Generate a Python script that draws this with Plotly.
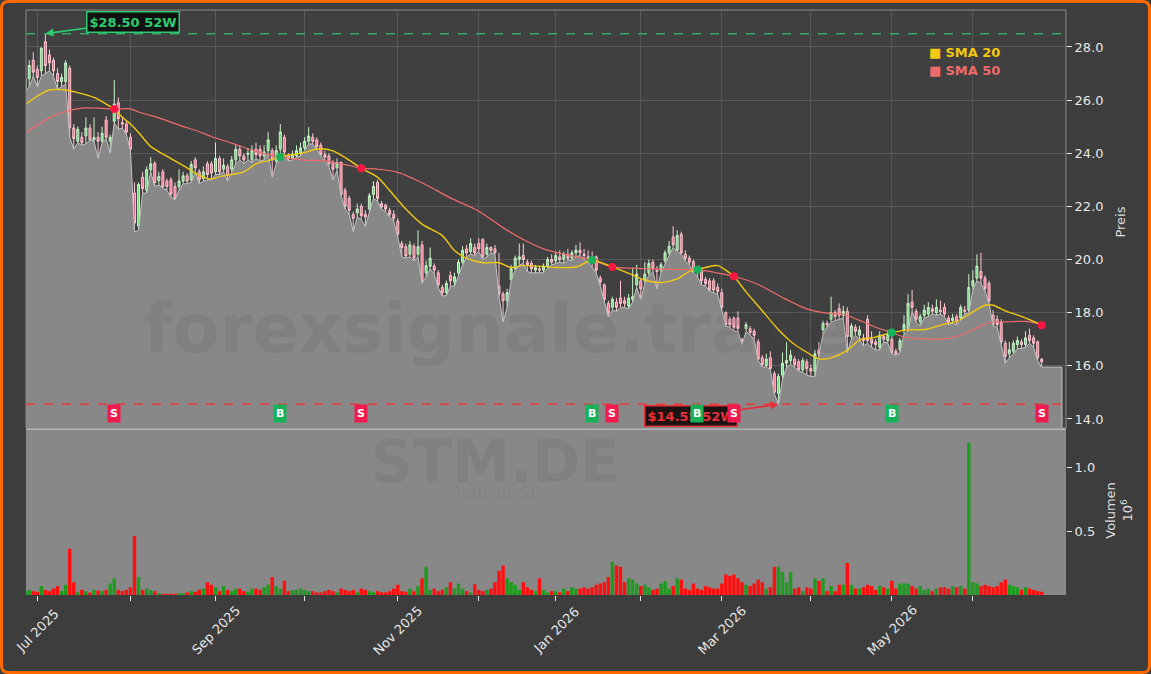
import pandas as pd
import plotly.graph_objects as go

# ---------------- data ----------------
holidays = ["2025-12-24", "2025-12-25", "2025-12-26", "2025-12-31", "2026-01-01",
            "2026-04-03", "2026-04-06", "2026-05-01"]
bdays = pd.bdate_range("2025-06-26", "2026-06-24")
dates = [d for d in bdays if d.strftime("%Y-%m-%d") not in holidays]

open_ = [26.4, 26.8, 27.5, 27.15, 27.1, 28.2, 27.7, 27.5, 27.0, 26.7, 26.7, 27.2,
         24.95, 24.45, 24.6, 24.65, 24.95, 24.5, 24.6, 24.45, 25.25, 24.45, 25.2, 25.9, 25.15, 25.1, 24.6, 22.5,
         21.26, 23.1, 22.6, 23.38, 23.62, 22.97, 23.3, 22.95, 23.0, 22.75, 22.75, 22.95, 23.15, 23.0, 23.75, 23.3,
         23.05, 23.6, 23.6, 23.3, 23.8, 23.4, 23.5, 23.4, 23.75, 24.15, 23.9, 23.95, 23.75, 24.15, 24.15, 23.9,
         24.1, 24.1, 23.7, 24.15, 24.6,
         23.9, 23.8, 23.9, 24.0, 24.2, 24.45, 24.6, 24.5, 24.3, 23.95, 23.9, 23.65, 23.45, 23.65, 22.6, 22.3,
         21.7, 21.75, 22.0, 21.7, 21.9, 22.45, 22.9, 22.1, 22.05, 21.85, 21.7, 21.45, 20.6, 20.48, 20.2, 20.5,
         20.2, 20.55, 19.5, 19.75, 19.75, 19.5, 18.95, 18.75, 19.4, 19.15, 19.5, 19.9, 20.4, 20.3, 20.45, 20.6,
         20.75, 20.2, 20.45, 20.4, 19.0, 18.7, 18.45, 19.25, 19.65, 20.0, 20.15, 19.9, 19.85, 19.6, 19.65, 19.6,
         19.75, 20.0, 19.95, 20.1, 20.0, 20.2, 20.05, 20.25, 20.35, 20.2, 20.1, 20.05, 20.1, 19.3, 19.05, 18.35,
         18.2, 18.4, 18.55, 18.45, 18.25, 18.5, 19.05, 19.2, 19.2, 19.5, 19.9, 19.6, 19.6, 19.95, 20.25, 20.85,
         20.35, 20.95, 20.2, 20.05, 19.92, 19.7, 19.6, 19.25, 19.2, 19.2, 18.95, 18.75, 18.0, 17.75, 17.8, 17.8,
         17.0, 17.4, 17.4, 17.3, 16.9, 16.3, 16.0, 16.3, 15.7, 14.95, 15.65, 16.1, 16.2, 16.25, 16.15, 15.85,
         16.15, 15.9, 15.8, 16.6, 17.35, 17.6, 17.75, 18.0, 18.15, 17.9, 18.05, 17.1, 17.45, 17.15, 17.05, 17.75,
         17.0, 16.9, 16.7, 17.1, 16.95, 17.0, 16.55, 16.6, 17.35, 17.4, 18.4, 18.05, 17.65, 17.9, 17.95, 18.15,
         18.0, 18.1, 18.2, 17.8, 17.7, 17.85, 17.8, 18.1, 18.1, 19.0, 19.3, 19.55, 19.3, 19.1, 17.9, 17.75,
         17.65, 16.85, 16.45, 16.55, 16.8, 16.9, 16.8, 17.15, 17.05, 16.9, 16.25]
high = [26.9, 27.5, 27.8, 27.3, 28.0, 28.5, 27.9, 27.6, 27.2, 27.0, 27.5, 27.3,
        25.1, 25.0, 24.8, 25.35, 25.1, 25.35, 24.8, 25.0, 25.4, 24.7, 26.75, 26.1, 25.35, 25.2, 24.75, 22.9,
        22.9, 23.3, 23.5, 23.85, 23.7, 23.3, 23.4, 23.05, 23.1, 22.9, 23.4, 23.3, 23.25, 23.7, 23.85, 23.4,
        23.5, 23.7, 23.7, 24.4, 23.9, 23.8, 23.6, 23.9, 24.3, 24.3, 24.0, 24.2, 24.3, 24.4, 24.3, 24.3,
        24.8, 24.2, 24.3, 25.1, 24.7,
        24.0, 24.1, 24.3, 24.4, 24.6, 24.98, 24.75, 24.6, 24.4, 24.1, 24.0, 23.75, 23.8, 23.7, 22.7, 22.4,
        21.8, 22.1, 22.1, 21.85, 22.5, 22.95, 23.0, 22.2, 22.1, 21.95, 21.85, 21.55, 20.7, 20.6, 20.7, 20.6,
        21.1, 20.7, 19.95, 20.45, 19.85, 19.6, 19.05, 19.2, 19.55, 19.5, 20.0, 20.5, 20.55, 20.8, 20.6, 20.8,
        20.8, 20.6, 20.5, 20.55, 20.25, 18.8, 18.9, 19.8, 20.15, 20.6, 20.6, 20.0, 19.95, 19.8, 19.75, 19.85,
        20.1, 20.2, 20.3, 20.35, 20.3, 20.4, 20.35, 20.55, 20.65, 20.4, 20.35, 20.3, 20.15, 19.4, 19.1, 18.45,
        18.6, 18.55, 19.2, 18.6, 18.7, 19.7, 19.8, 19.3, 19.9, 20.0, 20.0, 19.75, 19.9, 20.35, 20.7, 21.25,
        21.1, 21.05, 20.35, 20.15, 20.0, 19.75, 19.7, 19.35, 19.3, 19.3, 19.1, 18.9, 18.05, 17.85, 17.85, 18.05,
        17.05, 17.65, 17.5, 17.4, 17.0, 16.4, 16.45, 16.55, 15.8, 15.7, 16.5, 16.9, 16.6, 16.35, 16.25, 16.3,
        16.25, 16.05, 16.6, 16.9, 17.7, 17.7, 18.6, 18.1, 18.35, 18.25, 18.2, 17.6, 17.55, 17.5, 17.2, 17.9,
        17.3, 17.0, 17.3, 17.2, 17.35, 17.1, 16.65, 17.05, 17.9, 18.7, 18.85, 18.15, 17.95, 18.3, 18.4, 18.3,
        18.5, 18.45, 18.35, 17.9, 17.95, 17.95, 18.3, 18.25, 19.45, 19.6, 20.2, 20.25, 19.4, 19.2, 18.1, 17.9,
        17.75, 16.95, 16.9, 16.95, 17.1, 17.0, 17.3, 17.4, 17.15, 16.95, 16.3]
low = [26.3, 26.5, 26.9, 26.5, 26.9, 27.0, 27.1, 26.9, 26.4, 26.5, 26.6, 24.6,
       24.15, 24.4, 24.3, 24.35, 24.5, 24.45, 23.8, 24.4, 24.55, 24.0, 25.15, 24.9, 24.95, 24.7, 24.1, 21.04,
       21.1, 22.5, 22.5, 23.3, 22.75, 22.8, 22.7, 22.6, 22.35, 22.25, 22.6, 22.85, 22.85, 22.9, 23.3, 22.85,
       22.95, 23.0, 23.0, 23.2, 23.2, 23.3, 22.95, 23.3, 23.6, 23.75, 23.6, 23.75, 23.65, 23.8, 23.7, 23.75,
       24.0, 23.1, 23.6, 24.0, 23.95,
       23.7, 23.75, 23.85, 23.9, 24.1, 24.35, 24.35, 24.15, 23.9, 23.7, 23.5, 23.0, 23.35, 22.4, 21.9, 21.7,
       21.05, 21.6, 21.5, 21.25, 21.8, 22.3, 22.2, 21.9, 21.8, 21.6, 21.45, 20.85, 20.1, 20.05, 20.1, 19.95,
       20.1, 19.1, 19.35, 19.65, 19.45, 18.95, 18.62, 18.65, 19.0, 19.0, 19.4, 19.8, 20.1, 20.2, 20.15, 20.3,
       20.0, 20.1, 20.25, 20.2, 18.6, 17.65, 18.2, 19.2, 19.6, 19.8, 19.85, 19.55, 19.5, 19.5, 19.5, 19.5,
       19.65, 19.8, 19.85, 19.9, 19.85, 20.0, 19.95, 20.1, 20.15, 20.0, 19.9, 19.7, 19.5, 19.0, 18.4, 17.85,
       18.1, 18.05, 18.2, 18.2, 18.15, 18.4, 18.95, 18.5, 19.1, 19.4, 19.55, 18.9, 19.5, 19.85, 20.15, 20.45,
       20.3, 20.2, 19.95, 19.8, 19.5, 19.35, 19.05, 19.0, 18.8, 18.75, 18.7, 18.1, 17.5, 17.45, 17.3, 17.3,
       16.8, 17.3, 17.15, 17.0, 16.2, 15.95, 15.95, 15.85, 14.95, 14.55, 15.5, 15.95, 16.05, 15.95, 15.8, 15.75,
       15.65, 15.6, 15.6, 16.35, 17.2, 17.45, 17.65, 17.7, 17.75, 17.8, 16.5, 17.0, 17.15, 17.0, 16.75, 16.85,
       16.7, 16.6, 16.6, 16.9, 16.85, 16.45, 16.4, 16.5, 17.2, 17.3, 18.05, 17.65, 17.5, 17.8, 17.85, 17.95,
       17.9, 17.95, 17.85, 17.55, 17.6, 17.55, 17.7, 17.95, 18.0, 18.85, 19.2, 19.1, 18.8, 18.35, 17.5, 17.45,
       16.8, 16.1, 16.3, 16.45, 16.65, 16.65, 16.7, 16.85, 16.7, 16.2, 15.95]
close = [26.8, 27.3, 27.05, 26.85, 27.95, 27.3, 27.4, 27.1, 26.7, 26.85, 27.4, 24.95,
         24.55, 24.9, 24.4, 24.95, 24.5, 24.6, 24.45, 24.75, 24.6, 24.6, 25.85, 25.3, 25.1, 24.8, 24.15, 21.37,
         22.82, 22.67, 23.38, 23.6, 22.9, 23.12, 22.75, 22.75, 22.46, 22.3, 22.95, 23.15, 22.95, 23.58, 23.45, 23.0,
         23.3, 23.2, 23.25, 23.8, 23.3, 23.55, 23.15, 23.75, 24.15, 23.9, 23.75, 24.0, 24.1, 23.95, 23.9, 24.05,
         24.5, 23.75, 24.1, 24.8, 24.05,
         23.8, 23.95, 24.1, 24.2, 24.45, 24.65, 24.45, 24.25, 23.95, 23.85, 23.6, 23.4, 23.65, 22.45, 22.0, 21.85,
         21.55, 21.9, 21.65, 21.6, 22.4, 22.75, 22.3, 21.98, 21.9, 21.7, 21.55, 20.95, 20.45, 20.13, 20.55, 20.05,
         20.48, 19.2, 19.77, 20.05, 19.6, 19.05, 18.75, 19.1, 19.2, 19.35, 19.9, 20.35, 20.25, 20.6, 20.25, 20.4,
         20.1, 20.45, 20.35, 20.25, 18.7, 18.45, 18.75, 19.65, 20.05, 20.1, 20.0, 19.8, 19.65, 19.7, 19.6, 19.75,
         20.0, 19.9, 20.15, 20.0, 20.2, 20.05, 20.25, 20.35, 20.25, 20.15, 20.05, 20.0, 19.6, 19.15, 18.5, 18.0,
         18.5, 18.2, 18.35, 18.35, 18.55, 18.6, 19.45, 18.9, 19.45, 19.85, 19.65, 19.55, 19.8, 20.25, 20.5, 20.55,
         20.9, 20.25, 20.05, 19.9, 19.6, 19.5, 19.2, 19.1, 18.85, 18.85, 18.8, 18.2, 17.55, 17.55, 17.45, 17.4,
         16.9, 17.55, 17.25, 17.15, 16.25, 16.05, 16.25, 15.9, 15.0, 15.6, 16.1, 16.2, 16.4, 16.05, 15.85, 16.2,
         15.9, 15.8, 16.45, 16.45, 17.6, 17.55, 18.0, 17.85, 17.9, 18.05, 17.1, 17.5, 17.3, 17.35, 16.95, 16.95,
         16.85, 16.8, 17.15, 17.0, 17.2, 16.5, 16.45, 16.95, 17.55, 18.35, 18.2, 17.75, 17.85, 18.1, 18.2, 18.05,
         18.2, 18.05, 17.95, 17.65, 17.8, 17.65, 18.2, 18.05, 18.95, 19.2, 19.75, 19.3, 18.9, 18.45, 17.55, 17.55,
         16.9, 16.35, 16.6, 16.85, 16.95, 16.8, 17.05, 16.95, 16.85, 16.3, 16.15]
volume_m = [0.03, 0.04, 0.03, 0.025, 0.07, 0.04, 0.03, 0.05, 0.07, 0.03, 0.08, 0.36,
            0.10, 0.02, 0.04, 0.03, 0.02, 0.04, 0.035, 0.03, 0.04, 0.09, 0.13, 0.04, 0.03, 0.04, 0.06, 0.46,
            0.14, 0.04, 0.05, 0.04, 0.03, 0.015, 0.01, 0.01, 0.01, 0.01, 0.015, 0.01, 0.02, 0.03, 0.025, 0.04,
            0.05, 0.1, 0.08, 0.06, 0.03, 0.07, 0.04, 0.03, 0.05, 0.05, 0.03, 0.025, 0.05, 0.05, 0.04, 0.06,
            0.08, 0.14, 0.07, 0.05, 0.11,
            0.03, 0.04, 0.04, 0.05, 0.04, 0.03, 0.03, 0.02, 0.02, 0.03,
            0.04, 0.03, 0.02, 0.05, 0.04, 0.03, 0.04, 0.02, 0.05, 0.04,
            0.03, 0.02, 0.03, 0.02, 0.02, 0.03, 0.05, 0.08, 0.03, 0.025,
            0.05, 0.03, 0.07, 0.13, 0.22, 0.04, 0.05, 0.03, 0.04, 0.06,
            0.1, 0.05, 0.09, 0.05, 0.03, 0.02, 0.085, 0.04, 0.03, 0.04,
            0.05, 0.1, 0.19, 0.23, 0.13, 0.10, 0.08, 0.04, 0.1, 0.06,
            0.04, 0.03, 0.13, 0.04,
            0.02, 0.03, 0.03, 0.02, 0.05, 0.03, 0.06, 0.05, 0.05, 0.06,
            0.05, 0.06, 0.08, 0.09, 0.1, 0.14, 0.26, 0.23, 0.22, 0.1,
            0.13, 0.12, 0.09, 0.07, 0.08, 0.06, 0.04, 0.05, 0.09, 0.11,
            0.05, 0.07, 0.13, 0.12, 0.05, 0.04, 0.09, 0.05, 0.04, 0.07,
            0.06, 0.05, 0.05, 0.09, 0.16, 0.15, 0.16, 0.13, 0.1, 0.08,
            0.07, 0.09, 0.12, 0.1, 0.05, 0.06, 0.22, 0.22, 0.18, 0.1,
            0.18, 0.05, 0.06, 0.03,
            0.06, 0.05, 0.13, 0.11, 0.13, 0.03, 0.07, 0.03, 0.08, 0.08,
            0.25, 0.08, 0.05, 0.05, 0.06, 0.08, 0.07, 0.04, 0.07, 0.06,
            0.05, 0.11, 0.05, 0.09, 0.09, 0.09, 0.07, 0.05, 0.07, 0.04,
            0.05, 0.03, 0.05, 0.06, 0.06, 0.05, 0.07, 0.06, 0.07, 0.05,
            1.19, 0.10, 0.09, 0.07, 0.08, 0.07, 0.06, 0.07, 0.10, 0.12,
            0.08, 0.07, 0.06, 0.04, 0.06, 0.05, 0.04, 0.03, 0.025]

sma20_idx = [0, 3, 6, 10, 13, 17, 20, 22, 24, 26, 28, 31, 33, 36, 40, 43, 46, 48, 51, 54, 57, 60, 63, 66, 69,
             72, 76, 80, 83, 87, 90, 94, 98, 103, 106, 109, 113, 117, 120, 123, 128, 131, 136, 140, 142, 145,
             150, 153, 157, 161, 164, 166, 168, 171, 174, 175, 178, 182, 186, 190, 193, 196, 199, 203, 206,
             210, 214, 219, 222, 227, 230, 233, 237, 239, 242, 246, 249, 251]
sma20_val = [25.82, 26.15, 26.38, 26.38, 26.28, 26.1, 25.85, 25.66, 25.35, 25.1, 24.78, 24.25, 24.06, 23.8,
             23.45, 23.17, 23.03, 23.12, 23.2, 23.3, 23.6, 23.72, 23.86, 23.95, 24.02, 24.16, 24.09, 23.74,
             23.43, 23.1, 22.6, 21.9, 21.33, 20.9, 20.34, 20.05, 19.88, 19.88, 19.7, 19.77, 19.74, 19.7, 19.72,
             19.98, 19.9, 19.72, 19.42, 19.23, 19.13, 19.27, 19.55, 19.62, 19.7, 19.77, 19.49, 19.37, 18.78,
             18.07, 17.36, 16.8, 16.51, 16.26, 16.3, 16.58, 16.97, 17.08, 17.25, 17.36, 17.36, 17.57, 17.67,
             17.93, 18.28, 18.28, 18.07, 17.86, 17.67, 17.53]
sma50_idx = [0, 6, 10, 14, 18, 22, 26, 28, 33, 38, 43, 46, 51, 56, 60, 63, 69, 74, 79, 83, 87, 92, 98, 105,
             112, 118, 123, 128, 133, 140, 145, 153, 161, 166, 170, 175, 181, 187, 193, 197, 202, 207, 210,
             214, 217, 222, 227, 230, 234, 238, 242, 247, 251]
sma50_val = [24.76, 25.33, 25.57, 25.7, 25.7, 25.66, 25.67, 25.55, 25.33, 25.06, 24.81, 24.63, 24.38, 24.12,
             23.95, 23.86, 23.74, 23.71, 23.57, 23.44, 23.4, 23.28, 22.89, 22.32, 21.82, 21.2, 20.75, 20.4,
             20.2, 19.98, 19.72, 19.66, 19.63, 19.62, 19.52, 19.37, 19.06, 18.57, 18.14, 18.0, 17.93, 17.65,
             17.45, 17.25, 17.08, 17.01, 17.01, 17.11, 17.36, 17.62, 17.65, 17.67, 17.56]

signal_idx = [22, 63, 83, 140, 145, 166, 175, 214, 251]
signal_type = ["S", "B", "S", "B", "S", "B", "S", "B", "S"]
signal_price = [25.66, 23.86, 23.43, 19.98, 19.72, 19.62, 19.37, 17.25, 17.53]

# ---------------- styling constants ----------------
BG = "#3d3d3d"
GRID = "#585858"
AREA = "#888888"
TXT = "#e6e6e6"
GOLD = "#f2c811"
SALMON = "#ee6b6b"
GREEN_SIG = "#16b35a"
RED_SIG = "#ee1c4e"
FONT = "DejaVu Sans"
WM = "rgba(40,40,40,0.075)"

price_dom = [0.2855, 1.0]
vol_dom = [0.0, 0.2855]

fig = go.Figure()

# low-price area with extension to the right
ext_date = dates[-1] + pd.offsets.BDay(5)
fig.add_trace(go.Scatter(
    x=dates + [ext_date, ext_date], y=low + [low[-1], 0],
    mode="lines", fill="tozeroy", fillcolor=AREA,
    line=dict(color="#c4c4c4", width=1), hoverinfo="skip", showlegend=False,
    xaxis="x", yaxis="y"))

fig.add_trace(go.Candlestick(
    x=dates, open=open_, high=high, low=low, close=close,
    increasing=dict(line=dict(color="#c9f3c9", width=1), fillcolor="#72d27f"),
    decreasing=dict(line=dict(color="#ffc8d2", width=1), fillcolor="#f06785"),
    whiskerwidth=0, showlegend=False, xaxis="x", yaxis="y"))

fig.add_trace(go.Scatter(
    x=[dates[i] for i in sma50_idx], y=sma50_val, mode="lines",
    line=dict(color=SALMON, width=1.2, shape="spline", smoothing=0.8),
    name="SMA 50", showlegend=False, xaxis="x", yaxis="y"))
fig.add_trace(go.Scatter(
    x=[dates[i] for i in sma20_idx], y=sma20_val, mode="lines",
    line=dict(color=GOLD, width=1.4, shape="spline", smoothing=0.8),
    name="SMA 20", showlegend=False, xaxis="x", yaxis="y"))

fig.add_trace(go.Scatter(
    x=[dates[i] for i in signal_idx], y=signal_price, mode="markers",
    marker=dict(size=8, color=[GREEN_SIG if t == "B" else "#ff1744" for t in signal_type]),
    showlegend=False, xaxis="x", yaxis="y"))

vol_colors = ["#1f9b1f" if c >= o else "#ff1010" for o, c in zip(open_, close)]
fig.add_trace(go.Bar(
    x=dates, y=volume_m, marker=dict(color=vol_colors, line=dict(width=0)),
    showlegend=False, xaxis="x2", yaxis="y2"))

# ---------------- axes ----------------
x_range = [dates[0] + pd.Timedelta(hours=5), dates[-1] + pd.offsets.BDay(6)]
month_first = pd.Series(dates).groupby(pd.Series(dates).dt.to_period("M")).min().tolist()
month_first = [d for d in month_first if d.day <= 5]
tick_text = [d.strftime("%b %Y") if d.month % 2 == 1 else "" for d in month_first]
rb = [dict(bounds=["sat", "mon"]), dict(values=holidays)]

fig.update_layout(
    width=1151, height=674,
    margin=dict(l=26, r=85, t=10, b=79, autoexpand=False),
    paper_bgcolor=BG, plot_bgcolor="#404040",
    font=dict(family=FONT, color=TXT, size=13),
    showlegend=False, bargap=0.15,
    xaxis=dict(type="date", domain=[0, 1], anchor="y", range=x_range, rangebreaks=rb,
               rangeslider=dict(visible=False), tickvals=month_first, showticklabels=False,
               showgrid=True, gridcolor=GRID, gridwidth=1, ticks="", automargin=False,
               showline=True, linecolor="#b4b4b4", linewidth=2, zeroline=False),
    xaxis2=dict(type="date", domain=[0, 1], anchor="y2", matches="x", range=x_range, rangebreaks=rb,
                tickvals=month_first, showticklabels=False, ticks="outside",
                ticklen=5, tickcolor="#e6e6e6", showgrid=False, zeroline=False, automargin=False),
    yaxis=dict(domain=price_dom, anchor="x", side="right", range=[13.66, 29.39], dtick=2, tick0=14,
               tickformat=".1f", ticks="outside", ticklen=5, tickcolor="#e6e6e6", automargin=False,
               showgrid=True, gridcolor=GRID, zeroline=False, tickfont=dict(size=13, color=TXT)),
    yaxis2=dict(domain=vol_dom, anchor="x2", side="right", range=[0, 1.305], automargin=False,
                tickvals=[0.5, 1.0], ticktext=["0.5", "1.0"], ticks="outside", ticklen=5,
                tickcolor="#e6e6e6", showgrid=False, zeroline=False, tickfont=dict(size=13, color=TXT)),
)

# ---------------- shapes ----------------
shapes = []
shapes.append(dict(type="rect", xref="x2 domain", yref="y2 domain", x0=0, x1=1, y0=0, y1=1,
                   fillcolor=AREA, line=dict(width=0), layer="below"))
shapes.append(dict(type="rect", xref="x domain", yref="y domain", x0=0, x1=1, y0=0, y1=1,
                   fillcolor="rgba(0,0,0,0)", line=dict(color="#8a8a8a", width=1), layer="above"))
hi52 = max(high)
lo52 = min(low)
shapes.append(dict(type="line", xref="x domain", yref="y", x0=0, x1=1, y0=hi52, y1=hi52,
                   line=dict(color="#3aa866", width=1.5, dash="dash")))
shapes.append(dict(type="line", xref="x domain", yref="y", x0=0, x1=1, y0=lo52, y1=lo52,
                   line=dict(color="#e23c3c", width=1.5, dash="dash")))
x0p, x1p = (1.5 - 26) / 1040, (1149.5 - 26) / 1040
y0p, y1p = (595 - 672.5) / 585, (595 - 1.5) / 585
rx, ry = 7 / 1040, 7 / 585
path = (f"M {x0p+rx},{y1p} L {x1p-rx},{y1p} Q {x1p},{y1p} {x1p},{y1p-ry} "
        f"L {x1p},{y0p+ry} Q {x1p},{y0p} {x1p-rx},{y0p} L {x0p+rx},{y0p} "
        f"Q {x0p},{y0p} {x0p},{y0p+ry} L {x0p},{y1p-ry} Q {x0p},{y1p} {x0p+rx},{y1p} Z")
shapes.append(dict(type="path", xref="paper", yref="paper", path=path,
                   line=dict(color="#ff6a00", width=3), fillcolor="rgba(0,0,0,0)", layer="above"))
fig.update_layout(shapes=shapes)

# ---------------- annotations ----------------
ann = []
ann.append(dict(text="<b>forexsignale.trade</b>", xref="paper", yref="paper", x=0.4535, y=0.456,
                xanchor="center", yanchor="middle", showarrow=False,
                font=dict(size=68, color=WM, family=FONT)))
ann.append(dict(text="<b>STM.DE</b>", xref="paper", yref="paper", x=0.451, y=0.227,
                xanchor="center", yanchor="middle", showarrow=False,
                font=dict(size=58, color=WM, family=FONT)))
ann.append(dict(text="Stabilus SE", xref="paper", yref="paper", x=0.451, y=0.175,
                xanchor="center", yanchor="middle", showarrow=False,
                font=dict(size=16, color=WM, family=FONT)))
ann.append(dict(text="■ <b>SMA 20</b>", xref="paper", yref="paper", x=0.866, y=0.9265,
                xanchor="left", yanchor="middle", showarrow=False, font=dict(size=13, color=GOLD)))
ann.append(dict(text="■ <b>SMA 50</b>", xref="paper", yref="paper", x=0.866, y=0.897,
                xanchor="left", yanchor="middle", showarrow=False, font=dict(size=13, color=SALMON)))
ann.append(dict(text="Preis", xref="paper", yref="paper", x=1.0515, y=0.6376, textangle=-90,
                xanchor="center", yanchor="middle", showarrow=False, font=dict(size=13, color="#dddddd")))
ann.append(dict(text="Volumen<br>10<sup>6</sup>", xref="paper", yref="paper", x=1.0515, y=0.145,
                textangle=-90, xanchor="center", yanchor="middle", showarrow=False,
                font=dict(size=13, color="#dddddd")))
# rotated month labels, centred under their ticks
for d, t in zip(month_first, tick_text):
    if t:
        ann.append(dict(x=d, y=-0.06, xref="x2", yref="paper", text=t, textangle=-45,
                        xanchor="center", yanchor="middle", showarrow=False,
                        font=dict(size=13, color=TXT)))
i_hi = high.index(hi52)
i_lo = low.index(lo52)
ann.append(dict(x=dates[i_hi], y=hi52, xref="x", yref="y", text=f"<b>${hi52:.2f} 52W</b>",
                showarrow=True, ax=88, ay=-12, arrowhead=2, arrowsize=1, arrowwidth=1.6,
                arrowcolor="#2ecc71", font=dict(size=13, color="#2ecc71"),
                bgcolor="#111111", bordercolor="#2ecc71", borderwidth=1.5, borderpad=2))
ann.append(dict(x=dates[i_lo], y=lo52, xref="x", yref="y", text=f"<b>${lo52:.2f} 52W</b>",
                showarrow=True, ax=-87, ay=12, arrowhead=2, arrowsize=1, arrowwidth=1.6,
                arrowcolor="#e8303a", font=dict(size=13, color="#e8303a"),
                bgcolor="#1c1212", bordercolor="#e8303a", borderwidth=1.5, borderpad=2))
for i, t in zip(signal_idx, signal_type):
    ann.append(dict(x=dates[i], y=14.22, xref="x", yref="y", text=f"<b>{t}</b>", showarrow=False,
                    font=dict(size=11, color="white"),
                    bgcolor=GREEN_SIG if t == "B" else RED_SIG, borderpad=2))
fig.update_layout(annotations=ann)

fig.write_html("out.html")
